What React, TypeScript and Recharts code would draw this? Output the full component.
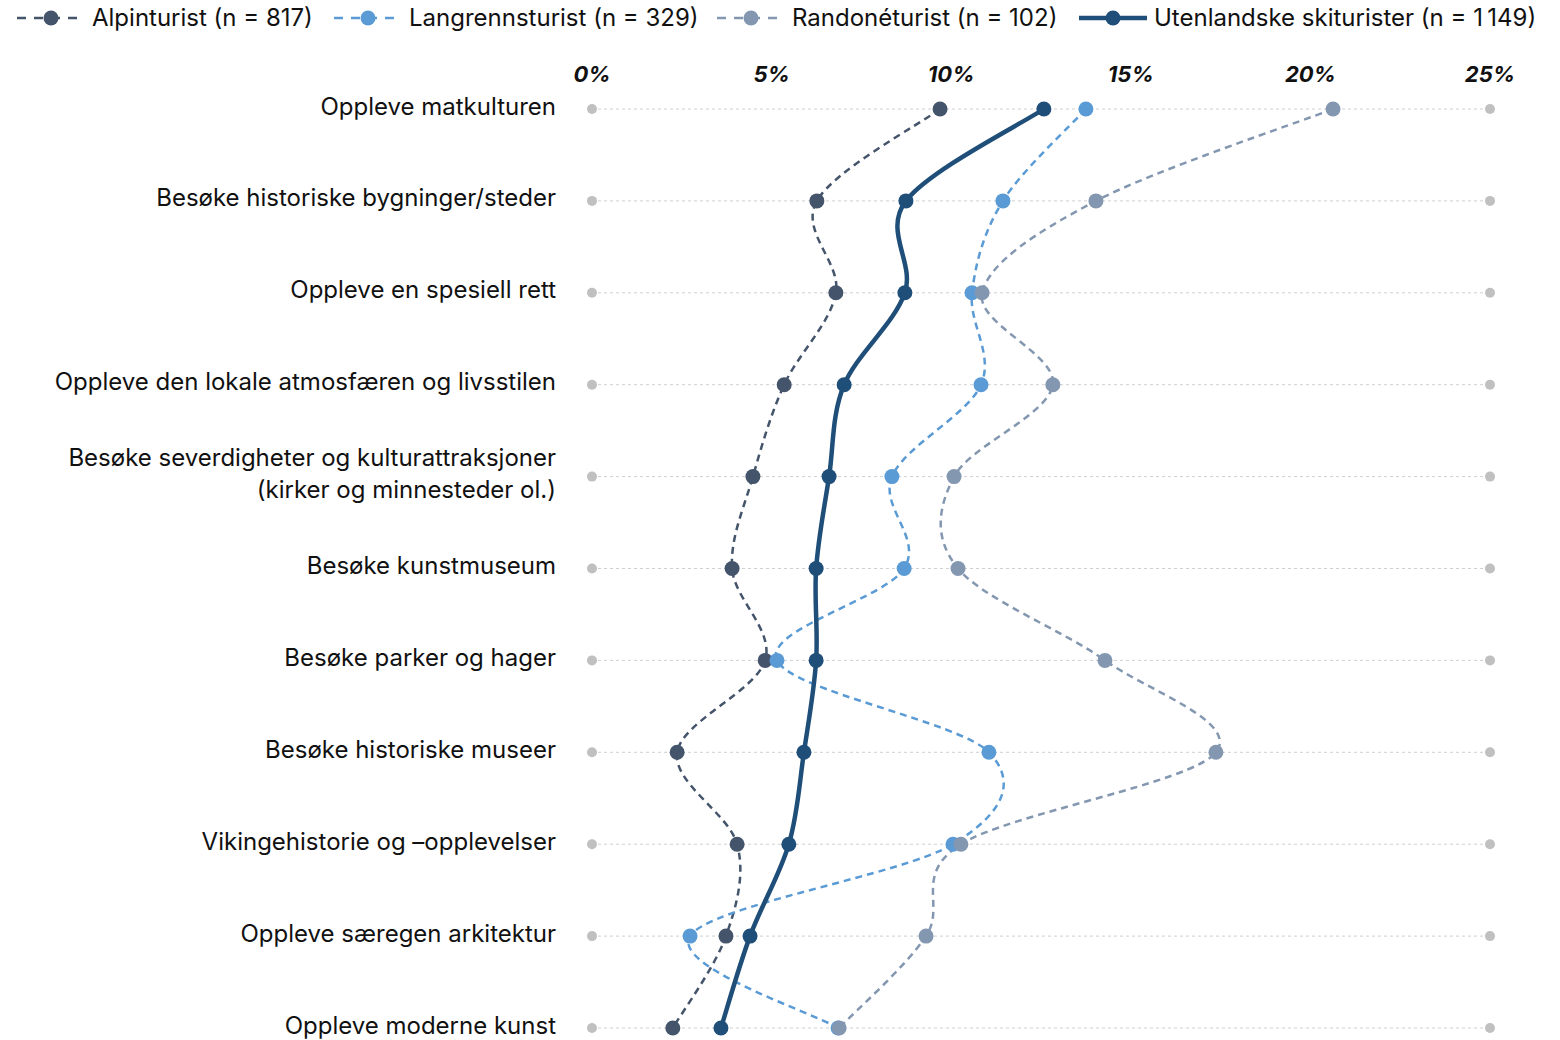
import React from "react";
import { LineChart, Line, XAxis, YAxis, CartesianGrid } from "recharts";

const categories = [
  "Oppleve matkulturen",
  "Besøke historiske bygninger/steder",
  "Oppleve en spesiell rett",
  "Oppleve den lokale atmosfæren og livsstilen",
  "Besøke severdigheter og kulturattraksjoner\n(kirker og minnesteder ol.)",
  "Besøke kunstmuseum",
  "Besøke parker og hager",
  "Besøke historiske museer",
  "Vikingehistorie og \u2013opplevelser",
  "Oppleve særegen arkitektur",
  "Oppleve moderne kunst",
];

const alpin = [9.69, 6.26, 6.79, 5.35, 4.48, 3.9, 4.82, 2.37, 4.04, 3.73, 2.25];
const langrenn = [13.75, 11.44, 10.58, 10.83, 8.35, 8.69, 5.15, 11.05, 10.05, 2.73, 6.85];
const rando = [20.63, 14.03, 10.86, 12.83, 10.08, 10.19, 14.28, 17.37, 10.27, 9.3, 6.88];
const uten = [12.58, 8.74, 8.71, 7.02, 6.6, 6.24, 6.24, 5.9, 5.48, 4.4, 3.59];

const axisTicks = [0, 5, 10, 15, 20, 25];
const endMarkers = [0, 25];

const seriesInfo = [
  { key: "alpin", name: "Alpinturist (n = 817)", color: "#44546A", dashed: true, left: 16 },
  { key: "langrenn", name: "Langrennsturist (n = 329)", color: "#5B9BD5", dashed: true, left: 333 },
  { key: "rando", name: "Randonéturist (n = 102)", color: "#8497B0", dashed: true, left: 716 },
  { key: "uten", name: "Utenlandske skiturister (n = 1\u2009149)", color: "#1F4E79", dashed: false, left: 1078 },
];

const data = categories.map((c, i) => ({
  category: c,
  alpin: alpin[i],
  langrenn: langrenn[i],
  rando: rando[i],
  uten: uten[i],
  lo: endMarkers[0],
  hi: endMarkers[1],
}));

const FONT = "Inter, 'Noto Sans', sans-serif";

// Catmull-Rom style smoothing (like spreadsheet "smoothed line")
const smoothCurve = (context: any) => {
  let pts: number[][] = [];
  return {
    areaStart() {},
    areaEnd() {},
    lineStart() {
      pts = [];
    },
    point(x: number, y: number) {
      pts.push([+x, +y]);
    },
    lineEnd() {
      if (!pts.length) return;
      context.moveTo(pts[0][0], pts[0][1]);
      for (let i = 0; i < pts.length - 1; i++) {
        const p0 = pts[i - 1] || pts[i];
        const p1 = pts[i];
        const p2 = pts[i + 1];
        const p3 = pts[i + 2] || pts[i + 1];
        const c1x = p1[0] + (p2[0] - p0[0]) / 6;
        const c1y = p1[1] + (p2[1] - p0[1]) / 6;
        const c2x = p2[0] - (p3[0] - p1[0]) / 6;
        const c2y = p2[1] - (p3[1] - p1[1]) / 6;
        context.bezierCurveTo(c1x, c1y, c2x, c2y, p2[0], p2[1]);
      }
    },
  };
};

const YTick = (props: any) => {
  const { x, y, payload } = props;
  const lines = String(payload.value).split("\n");
  const lh = 32;
  const start = -((lines.length - 1) * lh) / 2;
  return (
    <g>
      {lines.map((l, i) => (
        <text
          key={i}
          x={x - 28}
          y={y + start + i * lh}
          dy={-3}
          textAnchor="end"
          dominantBaseline="central"
          fontFamily={FONT}
          fontSize={24}
          fill="#111"
        >
          {l}
        </text>
      ))}
    </g>
  );
};

const XTick = (props: any) => {
  const { x, payload } = props;
  return (
    <text
      x={x}
      y={74}
      textAnchor="middle"
      dominantBaseline="central"
      fontFamily={FONT}
      fontSize={22}
      fontWeight={700}
      fontStyle="italic"
      fill="#111"
    >
      {payload.value}%
    </text>
  );
};

const LegendIcon = ({ color, dashed }: { color: string; dashed: boolean }) => (
  <svg width={70} height={20} style={{ display: "block" }}>
    <line
      x1={1}
      y1={10}
      x2={69}
      y2={10}
      stroke={color}
      strokeWidth={dashed ? 2.5 : 4.5}
      strokeDasharray={dashed ? "9 8" : undefined}
    />
    <circle cx={35} cy={10} r={7.5} fill={color} />
  </svg>
);

export default function App() {
  return (
    <div
      style={{
        position: "absolute",
        left: 0,
        top: 0,
        width: 1560,
        height: 1040,
        background: "#fff",
        fontFamily: FONT,
      }}
    >
      {seriesInfo.map((s) => (
        <div
          key={s.key}
          style={{
            position: "absolute",
            left: s.left,
            top: 3,
            display: "flex",
            alignItems: "center",
            gap: 6,
            fontSize: 24,
            color: "#111",
            whiteSpace: "nowrap",
          }}
        >
          <LegendIcon color={s.color} dashed={s.dashed} />
          <span>{s.name}</span>
        </div>
      ))}
      <LineChart
        width={1560}
        height={1040}
        data={data}
        layout="vertical"
        margin={{ top: 69, right: 70, bottom: 12, left: 0 }}
      >
        <CartesianGrid
          vertical={false}
          horizontal={true}
          stroke="#d0d0d0"
          strokeDasharray="3 3"
        />
        <XAxis
          type="number"
          orientation="top"
          domain={[0, 25]}
          ticks={axisTicks}
          axisLine={false}
          tickLine={false}
          tick={<XTick />}
          height={40}
          interval={0}
        />
        <YAxis
          type="category"
          dataKey="category"
          scale="point"
          padding={{ top: 0, bottom: 0 }}
          axisLine={false}
          tickLine={false}
          tick={<YTick />}
          width={592}
          interval={0}
        />
        <Line
          dataKey="lo"
          stroke="none"
          isAnimationActive={false}
          dot={{ r: 5, fill: "#c0c0c0", stroke: "none" }}
          activeDot={false}
          legendType="none"
        />
        <Line
          dataKey="hi"
          stroke="none"
          isAnimationActive={false}
          dot={{ r: 5, fill: "#c0c0c0", stroke: "none" }}
          activeDot={false}
          legendType="none"
        />
        {seriesInfo.map((s) => (
          <Line
            key={s.key}
            dataKey={s.key}
            name={s.name}
            type={smoothCurve as any}
            stroke={s.color}
            strokeWidth={s.dashed ? 2.5 : 4.5}
            strokeDasharray={s.dashed ? "7 5" : undefined}
            isAnimationActive={false}
            dot={{ r: 7.5, fill: s.color, stroke: "none" }}
            activeDot={false}
          />
        ))}
      </LineChart>
    </div>
  );
}
